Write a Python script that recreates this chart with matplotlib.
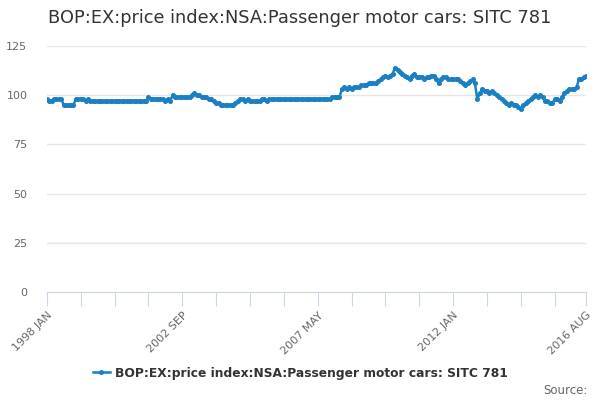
import numpy as np
import matplotlib.pyplot as plt

title = 'BOP:EX:price index:NSA:Passenger motor cars: SITC 781'
series_name = 'BOP:EX:price index:NSA:Passenger motor cars: SITC 781'

# monthly values, one row per year, starting 1998 JAN
values = [
    98, 97, 97, 98, 98, 98, 98, 95, 95, 95, 95, 95,           # 1998
    98, 98, 98, 98, 97, 98, 97, 97, 97, 97, 97, 97,           # 1999
    97, 97, 97, 97, 97, 97, 97, 97, 97, 97, 97, 97,           # 2000
    97, 97, 97, 97, 97, 97, 99, 98, 98, 98, 98, 98,           # 2001
    98, 97, 98, 97, 100, 99, 99, 99, 99, 99, 99, 99,          # 2002
    100, 101, 100, 100, 99, 99, 99, 98, 98, 97, 96, 96,       # 2003
    95, 95, 95, 95, 95, 95, 96, 97, 98, 98, 97, 98,           # 2004
    97, 97, 97, 97, 97, 98, 98, 97, 98, 98, 98, 98,           # 2005
    98, 98, 98, 98, 98, 98, 98, 98, 98, 98, 98, 98,           # 2006
    98, 98, 98, 98, 98, 98, 98, 98, 98, 98, 99, 99,           # 2007
    99, 99, 103, 104, 103, 104, 103, 104, 104, 104, 105, 105, # 2008
    105, 106, 106, 106, 106, 107, 108, 109, 110, 109, 110, 111,  # 2009
    114, 113, 112, 111, 110, 109, 108, 110, 111, 109, 109, 109,  # 2010
    108, 109, 109, 110, 110, 108, 106, 108, 109, 109, 108, 108,  # 2011
    108, 108, 108, 107, 106, 105, 106, 107, 108, 106, 98, 101,   # 2012
    103, 102, 102, 101, 102, 101, 100, 99, 98, 97, 96, 95,       # 2013
    96, 95, 95, 94, 93, 95, 96, 97, 98, 99, 100, 99,             # 2014
    100, 99, 97, 97, 96, 96, 98, 98, 97, 99, 101, 102,           # 2015
    103, 103, 103, 104, 108, 108, 109, 110,                      # 2016
]

months = ['JAN', 'FEB', 'MAR', 'APR', 'MAY', 'JUN',
          'JUL', 'AUG', 'SEP', 'OCT', 'NOV', 'DEC']
start_year = 1998
labels = ['%d %s' % (start_year + i // 12, months[i % 12]) for i in range(len(values))]

color = '#1a7fc3'
grey = '#666666'

fig = plt.figure(figsize=(6, 4), dpi=100)
ax = fig.add_axes([0.078, 0.27, 0.899, 0.615])

x = np.arange(len(values))
ax.plot(x, values, '-o', color=color, linewidth=1.8, markersize=2.6,
        label=series_name)

ax.set_xlim(0, len(values) - 1)
ax.set_ylim(0, 125)
ax.set_yticks(np.arange(0, 126, 25))
ax.yaxis.grid(True, color='#e6e6e6', linewidth=1)
ax.set_axisbelow(True)

ticks = list(range(0, len(values), 14))
if ticks[-1] != len(values) - 1:
    ticks.append(len(values) - 1)
ax.set_xticks(ticks)
ax.set_xticklabels([labels[t] if (k % 4 == 0 or t == len(values) - 1) else ''
                    for k, t in enumerate(ticks)],
                   rotation=45, ha='right', rotation_mode='anchor')

for s in ['left', 'right', 'top']:
    ax.spines[s].set_visible(False)
ax.spines['bottom'].set_color('#ccd6eb')
ax.tick_params(axis='x', length=10, color='#ccd6eb', labelsize=8,
               labelcolor=grey, pad=3)
ax.tick_params(axis='y', length=0, labelsize=8, labelcolor=grey, pad=14)

fig.text(0.5, 0.955, title, ha='center', va='center', fontsize=12.8,
         color='#333333')

handles, leg_labels = ax.get_legend_handles_labels()
leg = fig.legend(handles, leg_labels, loc='center', bbox_to_anchor=(0.5, 0.067),
                 frameon=False, handlelength=1.4, handletextpad=0.4,
                 prop={'weight': 'bold', 'size': 8.8})
for t in leg.get_texts():
    t.set_color('#333333')

fig.text(0.98, 0.025, 'Source:', ha='right', va='center', fontsize=8.5,
         color=grey)

fig.savefig('out.png', dpi=100)
